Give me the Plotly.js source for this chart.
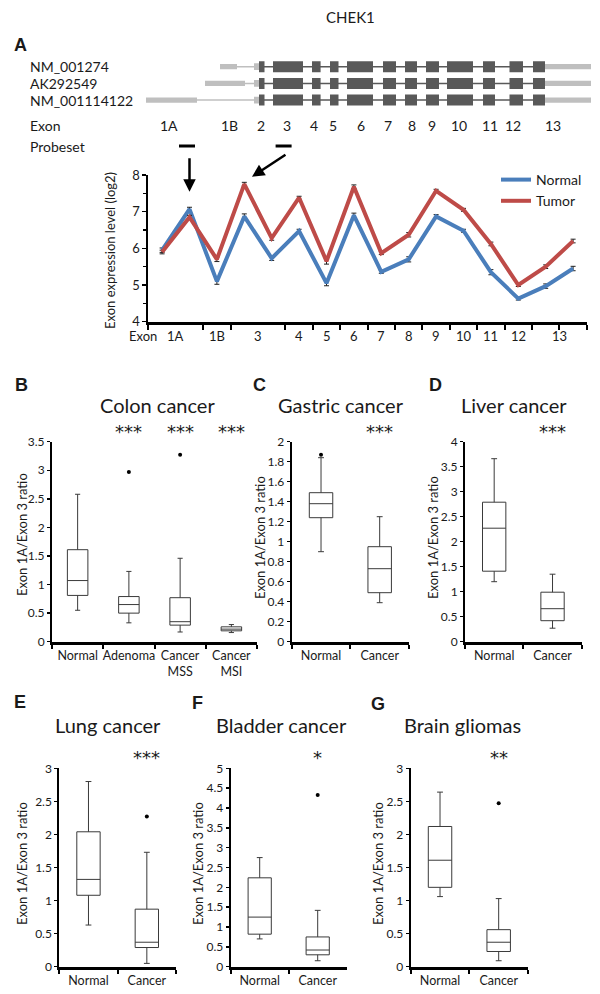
<!DOCTYPE html>
<html><head><meta charset="utf-8">
<script src="https://cdn.plot.ly/plotly-3.0.1.min.js"></script>
<style>html,body{margin:0;padding:0;background:#fff}#chart{width:600px;height:994px}</style>
</head><body><div id="chart"></div>
<script>
// ---------- Panel A: transcript structures ----------
const transcripts = ['NM_001274', 'AK292549', 'NM_001114122'];
const utr5Start = [220, 205, 146];
const utr5End = [237, 245, 197];
const exon2UtrStart = 254;
const codingStart = 259;
const codingEnd = 545;
const utr3End = 591;
const exonStart = [259, 273, 312, 330, 347, 383, 405, 426, 447, 483, 509.5, 533];
const exonEnd = [264.5, 303, 320.6, 338.5, 373, 396, 417, 439, 473, 495, 523, 545];
const exonLabels = ['1A', '1B', '2', '3', '4', '5', '6', '7', '8', '9', '10', '11', '12', '13'];
const exonLabelPos = [169, 229, 261, 287, 314, 333, 361, 388, 412, 432, 459, 490, 513, 553];
const probeStart = [179, 275.6];
const probeEnd = [195, 291.6];

// ---------- Panel A: exon expression ----------
const points = [1, 2, 3, 4, 5, 6, 7, 8, 9, 10, 11, 12, 13, 14, 15, 16];
const normal = [5.95, 7.07, 5.10, 6.87, 5.73, 6.47, 5.05, 6.90, 5.36, 5.70, 6.87, 6.48, 5.35, 4.63, 4.97, 5.45];
const tumor  = [5.90, 6.85, 5.70, 7.75, 6.28, 7.38, 5.65, 7.68, 5.87, 6.37, 7.57, 7.05, 6.12, 5.00, 5.50, 6.20];
const errNormal = [0.06, 0.05, 0.08, 0.07, 0.06, 0.05, 0.07, 0.06, 0.04, 0.07, 0.05, 0.04, 0.07, 0.04, 0.06, 0.06];
const errTumor  = [0.05, 0.05, 0.06, 0.05, 0.06, 0.04, 0.08, 0.05, 0.04, 0.06, 0.04, 0.04, 0.05, 0.04, 0.05, 0.05];
const tickBoundaries = [0.5, 2.5, 3.5, 5.5, 6.5, 7.5, 8.5, 9.5, 10.5, 11.5, 12.5, 13.5, 14.5, 15.5, 16.5];
const lineLabels = ['1A', '1B', '3', '4', '5', '6', '7', '8', '9', '10', '11', '12', '13'];
const lineLabelPos = [1.5, 3, 4.5, 6, 7, 8, 9, 10, 11, 12, 13, 14, 15.5];

// ---------- Panels B-G: box plots ----------
const colonCats = ['Normal', 'Adenoma', 'Cancer<br>MSS', 'Cancer<br>MSI'];
const colonLow = [0.55, 0.33, 0.17, 0.16];
const colonQ1 = [0.81, 0.50, 0.29, 0.19];
const colonMed = [1.07, 0.65, 0.35, 0.22];
const colonQ3 = [1.61, 0.79, 0.77, 0.26];
const colonHigh = [2.58, 1.23, 1.46, 0.30];
const colonOutX = ['Adenoma', 'Cancer<br>MSS'];
const colonOutY = [2.97, 3.27];
const colonStars = ['', '***', '***', '***'];

const twoCats = ['Normal', 'Cancer'];
const gastricLow = [0.90, 0.39], gastricQ1 = [1.24, 0.49], gastricMed = [1.38, 0.73], gastricQ3 = [1.49, 0.95], gastricHigh = [1.84, 1.25];
const gastricOutX = ['Normal'], gastricOutY = [1.87];
const gastricStars = ['', '***'];

const liverLow = [1.20, 0.27], liverQ1 = [1.41, 0.42], liverMed = [2.27, 0.66], liverQ3 = [2.79, 0.99], liverHigh = [3.66, 1.35];
const liverOutX = [], liverOutY = [];
const liverStars = ['', '***'];

const lungLow = [0.63, 0.05], lungQ1 = [1.08, 0.29], lungMed = [1.32, 0.37], lungQ3 = [2.04, 0.87], lungHigh = [2.80, 1.73];
const lungOutX = ['Cancer'], lungOutY = [2.27];
const lungStars = ['', '***'];

const bladderLow = [0.70, 0.15], bladderQ1 = [0.82, 0.30], bladderMed = [1.25, 0.42], bladderQ3 = [2.24, 0.75], bladderHigh = [2.75, 1.42];
const bladderOutX = ['Cancer'], bladderOutY = [4.33];
const bladderStars = ['', '*'];

const brainLow = [1.06, 0.09], brainQ1 = [1.20, 0.23], brainMed = [1.61, 0.37], brainQ3 = [2.12, 0.56], brainHigh = [2.64, 1.03];
const brainOutX = ['Cancer'], brainOutY = [2.47];
const brainStars = ['', '**'];

// ---------- helpers ----------
const W = 600, H = 994;
const fx = p => p / W;
const fy = p => 1 - p / H;
const FONT = 'Lato, "Open Sans", sans-serif';
const TXT = '#1a1a1a';
const DARK = '#595959', LIGHT = '#bfbfbf';

const data = [];
const shapes = [];
const annotations = [];
function note(o) {
  annotations.push(Object.assign({showarrow: false, xanchor: 'center', yanchor: 'middle'}, o));
}

// gene structure (axis x8/y8)
transcripts.forEach((name, r) => {
  note({xref: 'paper', yref: 'y8', x: fx(28), y: r, text: name, xanchor: 'left', font: {size: 14, color: TXT}});
  shapes.push({type: 'rect', xref: 'x8', yref: 'y8', x0: utr5Start[r], x1: utr5End[r], y0: r - 0.16, y1: r + 0.16, fillcolor: LIGHT, line: {width: 0}});
  shapes.push({type: 'line', xref: 'x8', yref: 'y8', x0: utr5End[r], x1: exon2UtrStart, y0: r, y1: r, line: {color: LIGHT, width: 1.5}});
  shapes.push({type: 'rect', xref: 'x8', yref: 'y8', x0: exon2UtrStart, x1: codingStart, y0: r - 0.2, y1: r + 0.2, fillcolor: LIGHT, line: {width: 0}});
  shapes.push({type: 'line', xref: 'x8', yref: 'y8', x0: codingStart, x1: codingEnd, y0: r, y1: r, line: {color: DARK, width: 1.5}});
  exonStart.forEach((s, i) => {
    shapes.push({type: 'rect', xref: 'x8', yref: 'y8', x0: s, x1: exonEnd[i], y0: r - 0.33, y1: r + 0.33, fillcolor: DARK, line: {width: 0}});
  });
  shapes.push({type: 'rect', xref: 'x8', yref: 'y8', x0: codingEnd, x1: utr3End, y0: r - 0.16, y1: r + 0.16, fillcolor: LIGHT, line: {width: 0}});
});
const exonRow = 3.5, probeRow = 4.76;
note({xref: 'paper', yref: 'y8', x: fx(28), y: exonRow, text: 'Exon', xanchor: 'left', font: {size: 14, color: TXT}});
note({xref: 'paper', yref: 'y8', x: fx(28), y: probeRow, text: 'Probeset', xanchor: 'left', font: {size: 14, color: TXT}});
exonLabels.forEach((t, i) => note({xref: 'x8', yref: 'y8', x: exonLabelPos[i], y: exonRow, text: t, font: {size: 14, color: TXT}}));
probeStart.forEach((s, i) => shapes.push({type: 'line', xref: 'x8', yref: 'y8', x0: s, x1: probeEnd[i], y0: probeRow, y1: probeRow, line: {color: '#000', width: 3}}));

// line chart
data.push({type: 'scatter', mode: 'lines', x: points, y: normal, name: 'Normal', xaxis: 'x', yaxis: 'y',
  line: {color: '#4a7ebb', width: 4},
  error_y: {type: 'data', array: errNormal, color: '#222', thickness: 1, width: 2.5}});
data.push({type: 'scatter', mode: 'lines', x: points, y: tumor, name: 'Tumor', xaxis: 'x', yaxis: 'y',
  line: {color: '#be4b48', width: 4},
  error_y: {type: 'data', array: errTumor, color: '#222', thickness: 1, width: 2.5}});
note({xref: 'paper', yref: 'paper', x: fx(143), y: fy(336), text: 'Exon', font: {size: 13, color: TXT}});
lineLabels.forEach((t, i) => note({xref: 'x', yref: 'paper', x: lineLabelPos[i], y: fy(336), text: t, font: {size: 13, color: TXT}}));
note({xref: 'paper', yref: 'paper', x: fx(110), y: fy(250), text: 'Exon expression level (log2)', textangle: -90, font: {size: 13, color: TXT}});
annotations.push({xref: 'x', yref: 'y', x: points[1], y: 7.54, ax: 0, ay: -35, text: '', showarrow: true, arrowhead: 2, arrowsize: 1, arrowwidth: 2.5, arrowcolor: '#000'});
annotations.push({xref: 'x', yref: 'y', x: 4.28, y: 7.95, ax: 35, ay: -23, text: '', showarrow: true, arrowhead: 2, arrowsize: 1, arrowwidth: 2.5, arrowcolor: '#000'});

// box panels
function boxPanel(n, cats, lo, q1, med, q3, hi, outX, outY, stars, yr, dtick, dom, title, titlePos, yTitleX, yTitleY, starY) {
  const xa = 'x' + n, ya = 'y' + n;
  data.push({type: 'box', x: cats, lowerfence: lo, q1: q1, median: med, q3: q3, upperfence: hi,
    xaxis: xa, yaxis: ya, width: 0.4, whiskerwidth: 0.25, fillcolor: '#fff', boxpoints: false,
    line: {color: '#3a3a3a', width: 1}, showlegend: false, hoverinfo: 'skip'});
  if (outX.length) data.push({type: 'scatter', mode: 'markers', x: outX, y: outY, xaxis: xa, yaxis: ya,
    marker: {color: '#000', size: 4}, showlegend: false, hoverinfo: 'skip'});
  stars.forEach((s, i) => { if (s) note({xref: xa, yref: 'paper', x: i, y: fy(starY + 4), text: s,
    font: {size: 18, color: TXT, family: '"DejaVu Sans", sans-serif'}}); });
  note({xref: 'paper', yref: 'paper', x: fx(titlePos[0]), y: fy(titlePos[1]), text: title, font: {size: 20, color: TXT}});
  note({xref: 'paper', yref: 'paper', x: fx(yTitleX), y: fy(yTitleY), text: 'Exon 1A/Exon 3 ratio', textangle: -90, font: {size: 13, color: TXT}});
  layout['xaxis' + n] = {domain: [fx(dom[0]), fx(dom[1])], anchor: ya, type: 'category', categoryorder: 'array', categoryarray: cats,
    range: [-0.5, cats.length - 0.5], tickson: 'boundaries', ticks: 'outside', ticklen: 4, tickwidth: 2, tickcolor: '#000',
    showline: true, linewidth: 3, linecolor: '#000', showgrid: false, zeroline: false, tickangle: 0,
    tickfont: {size: 12.5, color: TXT}, fixedrange: true};
  layout['yaxis' + n] = {domain: [fy(dom[3]), fy(dom[2])], anchor: xa, range: yr, dtick: dtick, ticks: 'outside', ticklen: 3, tickwidth: 1.5,
    tickcolor: '#000', showline: true, linewidth: 2, linecolor: '#000', showgrid: false, zeroline: false,
    tickfont: {size: 12, color: TXT}, fixedrange: true};
}

const layout = {
  width: W, height: H, margin: {l: 0, r: 0, t: 0, b: 0}, paper_bgcolor: '#fff', plot_bgcolor: 'rgba(0,0,0,0)',
  font: {family: FONT, color: TXT},
  showlegend: true,
  legend: {x: fx(496), y: fy(164), xanchor: 'left', yanchor: 'top', font: {size: 14, color: TXT}, bgcolor: 'rgba(0,0,0,0)', itemwidth: 30, tracegroupgap: 0},
  xaxis: {domain: [fx(148.4), fx(586.8)], anchor: 'y', range: [0.5, 16.5], tickvals: tickBoundaries, showticklabels: false,
    ticks: 'outside', ticklen: 5, tickwidth: 2, tickcolor: '#000', showline: true, linewidth: 3, linecolor: '#000',
    showgrid: false, zeroline: false, fixedrange: true},
  yaxis: {domain: [fy(321.7), fy(175)], anchor: 'x', range: [4, 8], dtick: 1, ticks: 'outside', ticklen: 4, tickwidth: 1.5,
    tickcolor: '#000', showline: true, linewidth: 2, linecolor: '#000', showgrid: false, zeroline: false,
    minor: {dtick: 0.5, ticks: 'outside', ticklen: 3, tickwidth: 1.5, tickcolor: '#000'},
    tickfont: {size: 13, color: TXT}, fixedrange: true},
  xaxis8: {domain: [0, 1], anchor: 'y8', range: [0, 600], visible: false, fixedrange: true},
  yaxis8: {domain: [fy(158.4), fy(41.7)], anchor: 'x8', range: [5.5, -1.5], visible: false, fixedrange: true},
  shapes: shapes, annotations: annotations
};

boxPanel(2, colonCats, colonLow, colonQ1, colonMed, colonQ3, colonHigh, colonOutX, colonOutY, colonStars, [0, 3.5], 0.5,
  [52, 257, 441.7, 641.7], 'Colon cancer', [157, 405], 22, 535, 428);
boxPanel(3, twoCats, gastricLow, gastricQ1, gastricMed, gastricQ3, gastricHigh, gastricOutX, gastricOutY, gastricStars, [0, 2], 0.2,
  [291.7, 409, 441.7, 641.7], 'Gastric cancer', [341, 405], 260, 538, 428);
boxPanel(4, twoCats, liverLow, liverQ1, liverMed, liverQ3, liverHigh, liverOutX, liverOutY, liverStars, [0, 4], 0.5,
  [465, 581.7, 441.7, 641.7], 'Liver cancer', [514, 405], 433, 538, 428);
boxPanel(5, twoCats, lungLow, lungQ1, lungMed, lungQ3, lungHigh, lungOutX, lungOutY, lungStars, [0, 3], 0.5,
  [59.3, 176, 768.3, 966.7], 'Lung cancer', [107.5, 725], 22, 864, 753);
boxPanel(6, twoCats, bladderLow, bladderQ1, bladderMed, bladderQ3, bladderHigh, bladderOutX, bladderOutY, bladderStars, [0, 5], 0.5,
  [230.7, 346.7, 768.3, 966.7], 'Bladder cancer', [281, 725], 198, 864, 753);
boxPanel(7, twoCats, brainLow, brainQ1, brainMed, brainQ3, brainHigh, brainOutX, brainOutY, brainStars, [0, 3], 0.5,
  [410.7, 528, 768.3, 966.7], 'Brain gliomas', [462.5, 725], 378, 864, 753);

// title and panel letters
note({xref: 'paper', yref: 'paper', x: fx(350), y: fy(17), text: 'CHEK1', font: {size: 15, color: TXT}});
const letters = ['A', 'B', 'C', 'D', 'E', 'F', 'G'];
const letterX = [20, 21, 259, 435, 20, 197, 378];
const letterY = [45, 385, 385, 385, 702, 703, 704];
letters.forEach((l, i) => note({xref: 'paper', yref: 'paper', x: fx(letterX[i]), y: fy(letterY[i]), text: '<b>' + l + '</b>',
  font: {size: 18, color: TXT, family: '"Liberation Sans", Arial, sans-serif'}}));

Plotly.newPlot('chart', data, layout, {displayModeBar: false, staticPlot: true});
</script></body></html>
